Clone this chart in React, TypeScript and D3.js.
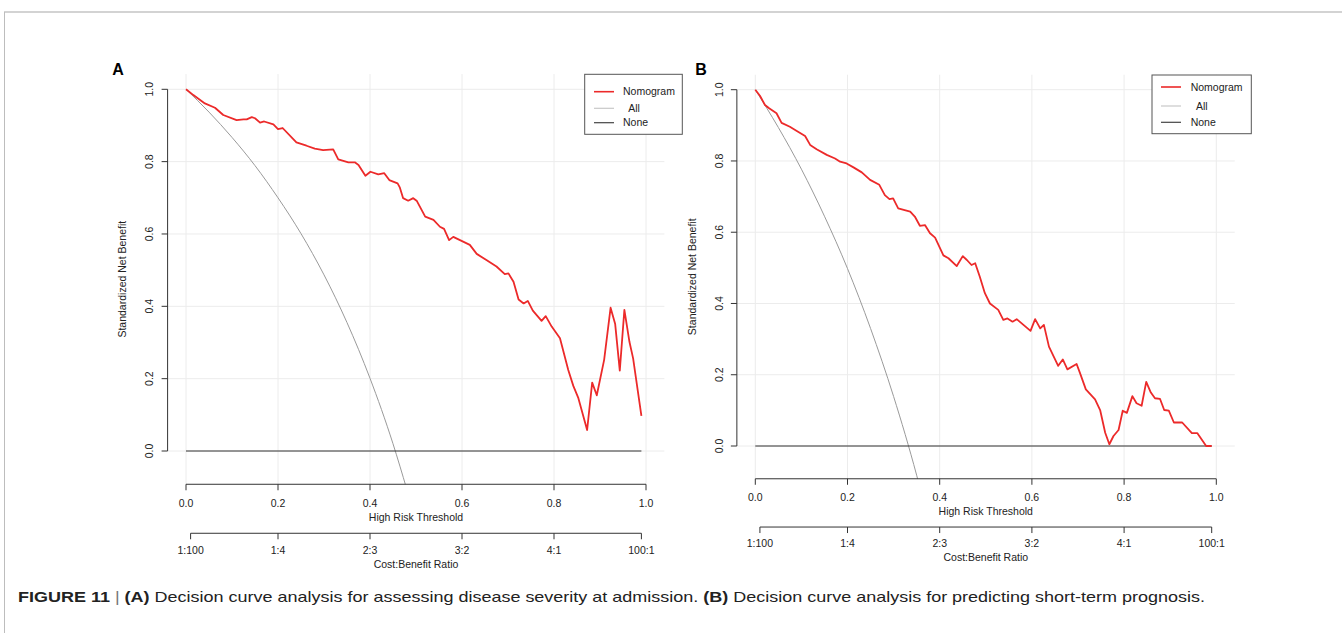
import React from 'react';
import * as d3 from 'd3';

// ---------- data ----------
const xTicks = [0, 0.2, 0.4, 0.6, 0.8, 1.0];
const yTicks = [0, 0.2, 0.4, 0.6, 0.8, 1.0];
const costTicks = [0.01, 0.2, 0.4, 0.6, 0.8, 0.99];
const costLabels = ['1:100', '1:4', '2:3', '3:2', '4:1', '100:1'];
const legendLabels = ['Nomogram', '  All', 'None'];

const thresholdsA = [0, 0.016, 0.041, 0.063, 0.081, 0.11, 0.125, 0.132, 0.143, 0.15, 0.161, 0.17, 0.19, 0.2, 0.21, 0.24, 0.262, 0.28, 0.298, 0.32, 0.331, 0.353, 0.367, 0.375, 0.39, 0.401, 0.418, 0.431, 0.442, 0.46, 0.465, 0.472, 0.483, 0.494, 0.502, 0.52, 0.538, 0.552, 0.561, 0.572, 0.581, 0.599, 0.617, 0.632, 0.653, 0.675, 0.693, 0.701, 0.712, 0.723, 0.734, 0.743, 0.754, 0.773, 0.782, 0.795, 0.813, 0.831, 0.842, 0.853, 0.872, 0.883, 0.893, 0.909, 0.923, 0.933, 0.943, 0.953, 0.964, 0.972, 0.99];
const nomogramA = [1.0, 0.984, 0.961, 0.949, 0.929, 0.915, 0.917, 0.917, 0.923, 0.92, 0.908, 0.911, 0.903, 0.89, 0.893, 0.853, 0.844, 0.836, 0.832, 0.834, 0.806, 0.798, 0.798, 0.791, 0.761, 0.772, 0.765, 0.768, 0.749, 0.74, 0.728, 0.699, 0.692, 0.699, 0.691, 0.648, 0.639, 0.62, 0.614, 0.583, 0.592, 0.581, 0.57, 0.545, 0.528, 0.51, 0.489, 0.491, 0.468, 0.419, 0.408, 0.415, 0.388, 0.36, 0.373, 0.344, 0.312, 0.224, 0.18, 0.146, 0.058, 0.189, 0.154, 0.252, 0.396, 0.351, 0.222, 0.39, 0.302, 0.256, 0.097];
const allThresholdsA = [0, 0.05, 0.1, 0.15, 0.2, 0.25, 0.3, 0.35, 0.4, 0.45, 0.48];
const allA = [1.0, 0.937, 0.867, 0.789, 0.7, 0.601, 0.487, 0.355, 0.201, 0.02, -0.106];

const thresholdsB = [0, 0.01, 0.021, 0.03, 0.046, 0.057, 0.075, 0.09, 0.108, 0.119, 0.133, 0.155, 0.173, 0.184, 0.198, 0.213, 0.231, 0.249, 0.269, 0.281, 0.291, 0.299, 0.31, 0.336, 0.346, 0.357, 0.368, 0.379, 0.39, 0.408, 0.419, 0.437, 0.45, 0.459, 0.469, 0.477, 0.487, 0.498, 0.509, 0.527, 0.538, 0.547, 0.558, 0.567, 0.597, 0.607, 0.618, 0.626, 0.637, 0.657, 0.667, 0.677, 0.697, 0.704, 0.717, 0.737, 0.748, 0.759, 0.768, 0.777, 0.788, 0.797, 0.806, 0.818, 0.827, 0.838, 0.848, 0.858, 0.867, 0.878, 0.887, 0.897, 0.908, 0.926, 0.947, 0.959, 0.978, 0.99];
const nomogramB = [1.0, 0.983, 0.957, 0.948, 0.934, 0.907, 0.896, 0.884, 0.87, 0.845, 0.833, 0.817, 0.807, 0.798, 0.793, 0.782, 0.768, 0.747, 0.733, 0.704, 0.693, 0.695, 0.667, 0.658, 0.644, 0.618, 0.62, 0.597, 0.585, 0.535, 0.527, 0.505, 0.533, 0.522, 0.508, 0.513, 0.475, 0.429, 0.4, 0.382, 0.354, 0.358, 0.349, 0.356, 0.323, 0.356, 0.33, 0.34, 0.279, 0.225, 0.243, 0.215, 0.23, 0.206, 0.159, 0.131, 0.101, 0.037, 0.005, 0.028, 0.045, 0.099, 0.093, 0.14, 0.12, 0.113, 0.18, 0.15, 0.134, 0.132, 0.101, 0.099, 0.066, 0.066, 0.036, 0.036, 0.0, 0.0];
const allThresholdsB = [0, 0.05, 0.1, 0.15, 0.2, 0.25, 0.3, 0.35, 0.36];
const allB = [1.0, 0.894, 0.777, 0.645, 0.498, 0.33, 0.139, -0.082, -0.131];

const noneThresholds = [0, 0.99];
const noneValues = [0, 0];

const captionParts = [
  { text: 'FIGURE 11', bold: true },
  { text: ' | ', bold: false, bar: true },
  { text: '(A)', bold: true },
  { text: ' Decision curve analysis for assessing disease severity at admission. ', bold: false },
  { text: '(B)', bold: true },
  { text: ' Decision curve analysis for predicting short-term prognosis.', bold: false },
];

// ---------- styles ----------
const FONT = '"Liberation Sans", Arial, Helvetica, sans-serif';
const RED = '#ec2a2a';
const GRID = '#ececec';
const TEXT = '#222';

type Layout = {
  id: string;
  letter: string;
  x0: number; x1: number; // px of t=0 and t=1
  y0: number; y1: number; // px of v=0 and v=1
  k: number; // scale of margin offsets
  letterX: number;
  legend: { x: number; y: number; w: number; h: number; rows: number[]; lineX: number; textX: number };
};

const layoutA: Layout = {
  id: 'A', letter: 'A',
  x0: 186, x1: 646, y0: 451, y1: 89.3, k: 1,
  letterX: 118,
  legend: { x: 584.7, y: 74.3, w: 97.6, h: 60, rows: [91.7, 108.3, 122.7], lineX: 594, textX: 623 },
};
const layoutB: Layout = {
  id: 'B', letter: 'B',
  x0: 755.3, x1: 1216.3, y0: 446, y1: 89.7, k: 0.985,
  letterX: 701,
  legend: { x: 1152, y: 75, w: 99.3, h: 58.7, rows: [87, 106, 122.3], lineX: 1161, textX: 1190.7 },
};

function Panel({ L, tN, vN, tAll, vAll }: { L: Layout; tN: number[]; vN: number[]; tAll: number[]; vAll: number[] }) {
  const x = d3.scaleLinear().domain([0, 1]).range([L.x0, L.x1]);
  const y = d3.scaleLinear().domain([0, 1]).range([L.y0, L.y1]);
  const left = x(-0.04), right = x(1.04);
  const top = y(1.042), bottom = y(-0.092);
  const line = d3.line<[number, number]>().x(d => x(d[0])).y(d => y(d[1]));
  const smooth = d3.line<[number, number]>().x(d => x(d[0])).y(d => y(d[1])).curve(d3.curveMonotoneX);
  const nomo = tN.map((t, i) => [t, vN[i]] as [number, number]);
  const all = tAll.map((t, i) => [t, vAll[i]] as [number, number]);
  const none = noneThresholds.map((t, i) => [t, noneValues[i]] as [number, number]);
  const axisY = bottom;
  const k = L.k;
  const clipId = 'clip' + L.id;
  const midY = (top + bottom) / 2;
  const midX = (x(0) + x(1)) / 2;
  const lg = L.legend;
  return (
    <g fontFamily={FONT} fill={TEXT}>
      <defs>
        <clipPath id={clipId}>
          <rect x={left} y={top} width={right - left} height={bottom - top} />
        </clipPath>
      </defs>
      {/* grid */}
      {xTicks.map(t => (
        <line key={'gx' + t} x1={x(t)} x2={x(t)} y1={top} y2={bottom} stroke={GRID} strokeWidth={1} />
      ))}
      {yTicks.map(v => (
        <line key={'gy' + v} x1={left} x2={right} y1={y(v)} y2={y(v)} stroke={GRID} strokeWidth={1} />
      ))}
      {/* curves */}
      <g clipPath={`url(#${clipId})`}>
        <path d={smooth(all) || ''} fill="none" stroke="#9a9a9a" strokeWidth={1} />
        <path d={line(none) || ''} fill="none" stroke="#333" strokeWidth={1.2} />
        <path d={line(nomo) || ''} fill="none" stroke={RED} strokeWidth={1.8} strokeLinejoin="round" />
      </g>
      {/* y axis */}
      <line x1={left} x2={left} y1={y(0)} y2={y(1)} stroke="#333" strokeWidth={1} />
      {yTicks.map(v => (
        <g key={'yt' + v}>
          <line x1={left - 6} x2={left} y1={y(v)} y2={y(v)} stroke="#333" strokeWidth={1} />
          <text transform={`translate(${left - 18},${y(v)}) rotate(-90)`} textAnchor="middle" dy="0.35em" fontSize={10.5}>
            {v.toFixed(1)}
          </text>
        </g>
      ))}
      <text transform={`translate(${left - 45},${midY}) rotate(-90)`} textAnchor="middle" dy="0.35em" fontSize={10.5}>
        Standardized Net Benefit
      </text>
      {/* x axis */}
      <line x1={x(0)} x2={x(1)} y1={axisY} y2={axisY} stroke="#333" strokeWidth={1} />
      {xTicks.map(t => (
        <g key={'xt' + t}>
          <line x1={x(t)} x2={x(t)} y1={axisY} y2={axisY + 6} stroke="#333" strokeWidth={1} />
          <text x={x(t)} y={axisY + 18.7 * k} dy="0.35em" textAnchor="middle" fontSize={10.5}>{t.toFixed(1)}</text>
        </g>
      ))}
      <text x={midX} y={axisY + 33 * k} dy="0.35em" textAnchor="middle" fontSize={10.5}>High Risk Threshold</text>
      {/* cost benefit axis */}
      <line x1={x(costTicks[0])} x2={x(costTicks[costTicks.length - 1])} y1={axisY + 49 * k} y2={axisY + 49 * k} stroke="#333" strokeWidth={1} />
      {costTicks.map((t, i) => (
        <g key={'ct' + i}>
          <line x1={x(t)} x2={x(t)} y1={axisY + 49 * k} y2={axisY + 49 * k + 6} stroke="#333" strokeWidth={1} />
          <text x={x(t)} y={axisY + 66 * k} dy="0.35em" textAnchor="middle" fontSize={10.5}>{costLabels[i]}</text>
        </g>
      ))}
      <text x={midX} y={axisY + 80 * k} dy="0.35em" textAnchor="middle" fontSize={10.5}>Cost:Benefit Ratio</text>
      {/* panel letter */}
      <text x={L.letterX} y={69} dy="0.35em" textAnchor="middle" fontSize={16} fontWeight="bold" fill="#000">{L.letter}</text>
      {/* legend */}
      <rect x={lg.x} y={lg.y} width={lg.w} height={lg.h} fill="#fff" stroke="#555" strokeWidth={1} />
      {legendLabels.map((lab, i) => (
        <g key={'lg' + i}>
          <line x1={lg.lineX} x2={lg.lineX + 20} y1={lg.rows[i]} y2={lg.rows[i]}
            stroke={i === 0 ? RED : i === 1 ? '#c8c8c8' : '#444'} strokeWidth={i === 0 ? 1.6 : 1.2} />
          <text x={lg.textX} y={lg.rows[i]} dy="0.35em" fontSize={10.5} xmlSpace="preserve" style={{ whiteSpace: 'pre' }}>{lab}</text>
        </g>
      ))}
    </g>
  );
}

export default function App() {
  return (
    <svg width={1342} height={633} style={{ position: 'absolute', left: 0, top: 0, background: '#fff' }}>
      <rect x={0} y={0} width={1342} height={633} fill="#fff" />
      {/* frame */}
      <line x1={4} x2={1342} y1={12} y2={12} stroke="#c4c4c4" strokeWidth={1.5} />
      <line x1={4.5} x2={4.5} y1={12} y2={633} stroke="#bdbdbd" strokeWidth={1} />
      <Panel L={layoutA} tN={thresholdsA} vN={nomogramA} tAll={allThresholdsA} vAll={allA} />
      <Panel L={layoutB} tN={thresholdsB} vN={nomogramB} tAll={allThresholdsB} vAll={allB} />
      {/* caption */}
      <text x={18} y={597} dy="0.35em" fontSize={15} fontFamily={'"Liberation Sans Narrow", "Liberation Sans", Arial, sans-serif'}
        fill="#222" textLength={1187} lengthAdjust="spacingAndGlyphs" xmlSpace="preserve" style={{ whiteSpace: 'pre' }}>
        {captionParts.map((p, i) => (
          <tspan key={i} fontWeight={p.bold ? 'bold' : 'normal'} fill={p.bar ? '#777' : '#222'}>{p.text}</tspan>
        ))}
      </text>
    </svg>
  );
}
